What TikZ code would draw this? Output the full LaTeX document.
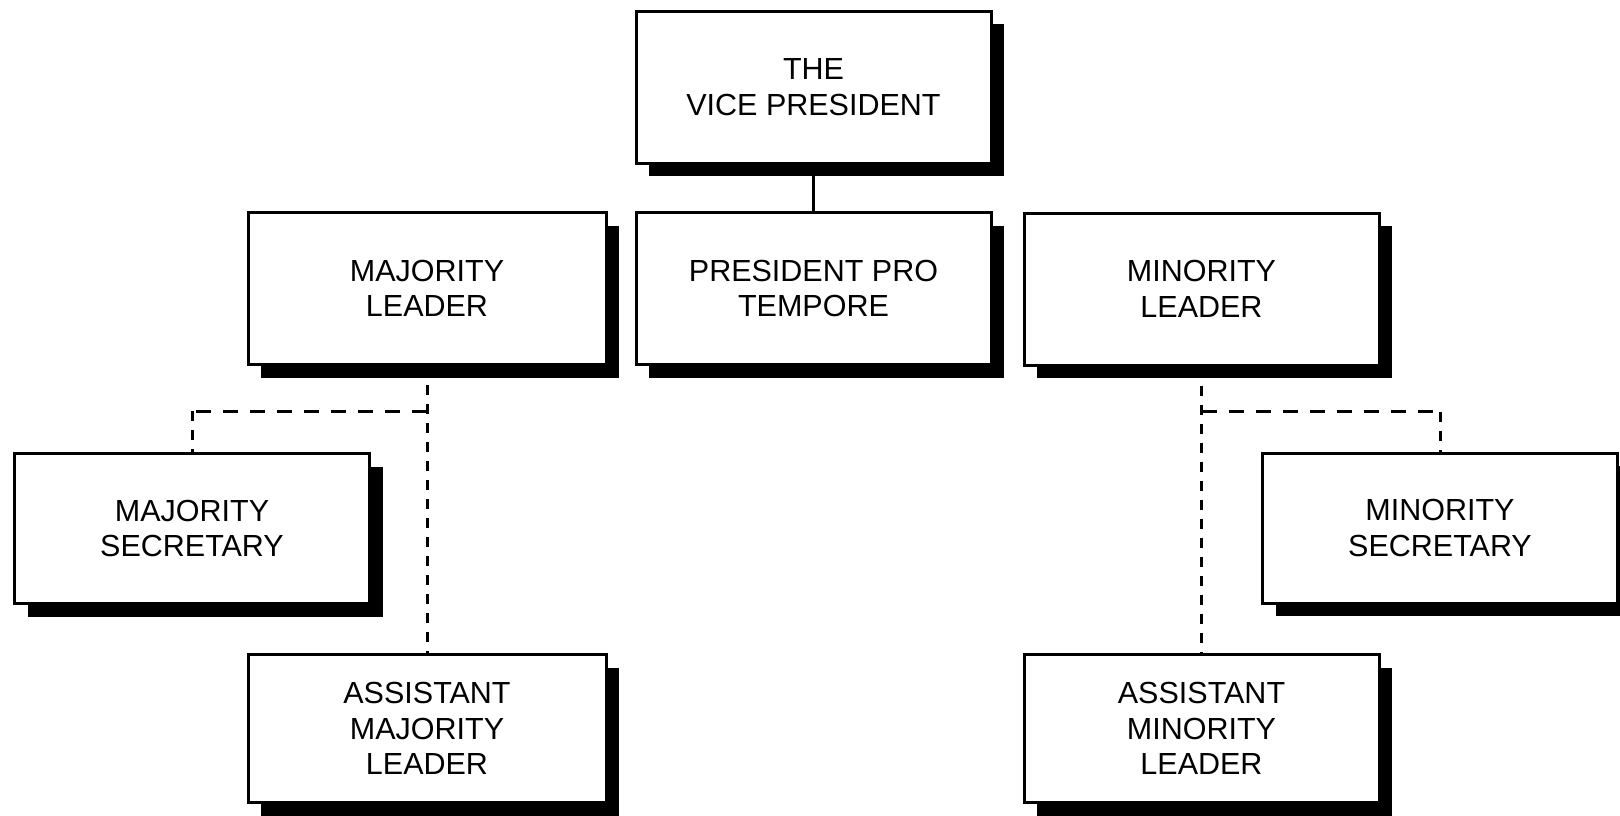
\documentclass[tikz,border=0pt]{standalone}
\usepackage{fontspec}
\setmainfont{Liberation Sans}
\usetikzlibrary{shadows}
\begin{document}
\begin{tikzpicture}[x=1pt,y=-1pt,
  box/.style={draw, line width=3pt, fill=white, minimum width=355pt, minimum height=152pt,
    inner sep=0pt, align=center, font=\fontsize{30.5}{35.5}\selectfont,
    general shadow={fill=black, shadow xshift=13pt, shadow yshift=-13pt}},
  vdash/.style={line width=3pt, dash pattern=on 10pt off 9pt},
  hdash/.style={line width=3pt, dash pattern=on 15pt off 12pt},
  solidline/.style={line width=3pt}]
\useasboundingbox[fill=white] (0,0) rectangle (1620,815);

\node[box] (vp) at (813.5,87) {THE\\VICE PRESIDENT};
\node[box] (ppt) at (813.5,288.5) {PRESIDENT PRO\\TEMPORE};
\node[box, minimum width=358pt] (ml) at (427,288.5) {MAJORITY\\LEADER};
\node[box] (mnl) at (1201.5,289) {MINORITY\\LEADER};
\node[box, minimum height=150pt] (ms) at (192,528.5) {MAJORITY\\SECRETARY};
\node[box, minimum height=150pt] (mns) at (1440,528) {MINORITY\\SECRETARY};
\node[box, minimum width=358pt, minimum height=148pt] (aml) at (427,728.5) {ASSISTANT\\MAJORITY\\LEADER};
\node[box, minimum height=148pt] (amnl) at (1201.5,728.5) {ASSISTANT\\MINORITY\\LEADER};

\path (ml.south) ++(0,45) coordinate (mjJ);
\path (mnl.south) ++(0,45) coordinate (mnJ);
\coordinate (mjC) at (ms.north |- mjJ);
\coordinate (mnC) at (mns.north |- mnJ);

\draw[solidline] (vp.south) -- (ppt.north);
\draw[vdash] (ml.south) -- (aml.north);
\draw[hdash] (mjJ) -- (mjC);
\draw[vdash] (mjC) -- (ms.north);
\draw[vdash] (mnl.south) -- (amnl.north);
\draw[hdash] (mnJ) -- (mnC);
\draw[vdash] (mnC) -- (mns.north);
\end{tikzpicture}
\end{document}
